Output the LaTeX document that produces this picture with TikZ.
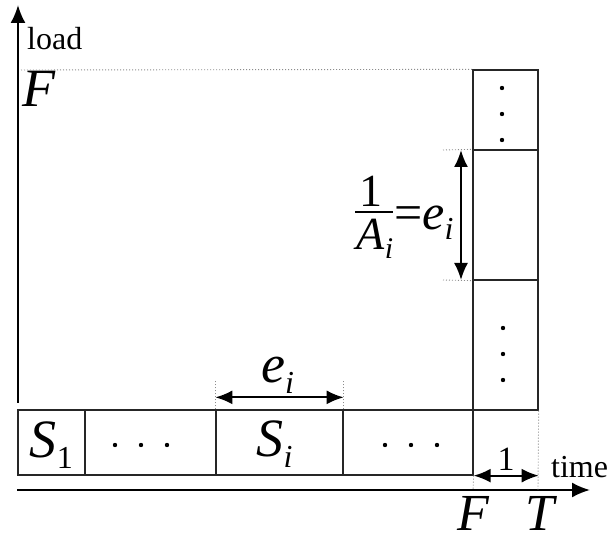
\documentclass[tikz,border=0pt]{standalone}
\usepackage{fontspec}
\setmainfont{Liberation Serif}
\usetikzlibrary{arrows.meta}
\newcommand\mysub[2][32]{\raisebox{-0.19em}{\fontsize{#1}{#1}\selectfont #2}}
\begin{document}
\begin{tikzpicture}[x=1pt,y=-1pt,
  box/.style={draw=black!85, line width=1.3pt, inner sep=0pt},
  axis/.style={line width=2pt, -{Latex[length=18pt,width=15pt]}},
  dim/.style={line width=2pt, {Latex[length=17pt,width=14pt]}-{Latex[length=17pt,width=14pt]}},
  dotl/.style={black!45, line width=0.9pt, dash pattern=on 1pt off 2pt},
  lab/.style={inner sep=0pt, font=\fontsize{32}{32}\selectfont},
  big/.style={inner sep=0pt, font=\fontsize{54}{54}\selectfont\itshape},
]
\useasboundingbox (0,0) rectangle (614,537);

% bottom row
\node[box, minimum width=67pt, minimum height=65pt] (s1) at (51.5,442.5) {};
\node[box, minimum width=131pt, minimum height=65pt] (d1) at (150.5,442.5) {};
\node[box, minimum width=127pt, minimum height=65pt] (si) at (279.5,442.5) {};
\node[box, minimum width=130pt, minimum height=65pt] (d2) at (408,442.5) {};
% right column
\node[box, minimum width=65pt, minimum height=80pt] (c1) at (505.5,110) {};
\node[box, minimum width=65pt, minimum height=130pt] (c2) at (505.5,215) {};
\node[box, minimum width=65pt, minimum height=130pt] (c3) at (505.5,345) {};

% dots
\foreach \x in {115,141,167} \fill (\x,445) circle (2.2pt);
\foreach \x in {385,411,437} \fill (\x,445) circle (2.2pt);
\foreach \y in {88,114,140} \fill (502,\y) circle (2.2pt);
\foreach \y in {328,354,380} \fill (503,\y) circle (2.2pt);

% labels in boxes
\node[big, anchor=base] (s1t) at (51.5,458) {S\mysub{\upshape 1}};
\node[big, anchor=base] (sit) at (274.5,457) {S\mysub{i}};

% axes
\coordinate (ybot) at (18,403);
\coordinate (ytop) at (18,5);
\coordinate (xl) at (17,490);
\coordinate (xr) at (590,490);
\draw[axis] (ybot) -- (ytop);
\draw[axis] (xl) -- (xr);
\node[lab, anchor=base west] (load) at (27,50) {load};
\node[lab, anchor=base west] (time) at (551,478) {time};
\node[big, anchor=base west] (Ftop) at (22,107) {F};
\node[big, anchor=base, font=\fontsize{52}{52}\selectfont\itshape] (Fbot) at (473,531) {F};
\node[big, anchor=base, font=\fontsize{52}{52}\selectfont\itshape] (T) at (540,531) {T};

% top dotted line
\coordinate (dl) at (21,70);
\draw[dotl] (dl) -- (c1.north west);

% e_i horizontal dimension
\coordinate (hl) at ([yshift=12pt]si.north west);
\coordinate (hr) at ([yshift=12pt]si.north east);
\coordinate (hlt) at ([yshift=28pt]si.north west);
\coordinate (hrt) at ([yshift=28pt]si.north east);
\draw[dotl] (si.north west) -- (hlt);
\draw[dotl] (si.north east) -- (hrt);
\draw[dim] (hl) -- (hr);
\node[big, anchor=base] (ei) at (277.5,383) {e\mysub{i}};

% vertical dimension 1/A_i = e_i
\coordinate (vt) at (461,150);
\coordinate (vb) at (461,280);
\coordinate (vtl) at (443,150);
\coordinate (vbl) at (443,280);
\draw[dotl] (vtl) -- (c2.north west);
\draw[dotl] (vbl) -- (c2.south west);
\draw[dim] (vt) -- (vb);
\node[inner sep=0pt, font=\fontsize{46}{46}\selectfont, anchor=base] (fnum) at (371,207) {1};
\node[inner sep=0pt, font=\fontsize{46}{46}\selectfont\itshape, anchor=base] (fden) at (375,250) {A\mysub[30]{i}};
\coordinate (fbl) at (355,212);
\coordinate (fbr) at (393,212);
\draw[line width=1.8pt] (fbl) -- (fbr);
\node[inner sep=0pt, font=\fontsize{50}{50}\selectfont, anchor=base west] (eq) at (394,230) {=\textit{e}\mysub{\itshape i}};

% unit dimension 1
\coordinate (ul) at (d2.south east);
\coordinate (ur) at (c3.south east |- d2.south east);
\coordinate (uld) at (473,490);
\coordinate (urd) at (538,490);
\draw[dotl] (d2.south east) -- (uld);
\draw[dotl] (c3.south east) -- (urd);
\draw[dim] (ul) -- (ur);
\node[inner sep=0pt, font=\fontsize{34}{34}\selectfont, anchor=base] (one) at (506,471) {1};
\end{tikzpicture}
\end{document}
